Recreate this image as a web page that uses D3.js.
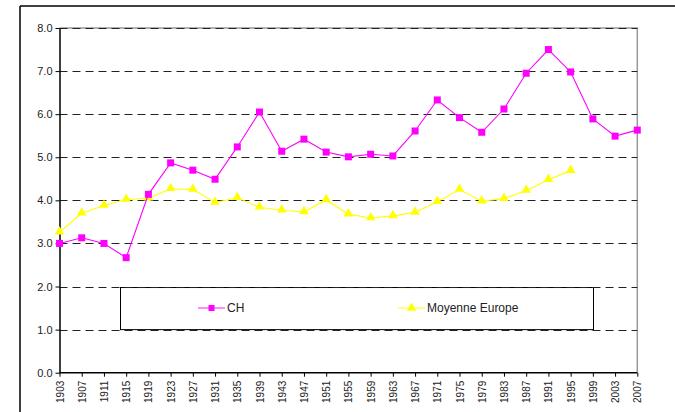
<!DOCTYPE html>
<html>
<head>
<meta charset="utf-8">
<script src="https://cdn.jsdelivr.net/npm/d3@7"></script>
<style>
  body { margin: 0; background: #fff; }
  svg { display: block; font-family: "Liberation Sans", Arial, sans-serif; }
  .axis path, .axis line { stroke: #000; }
  .axis text { fill: #222; }
</style>
</head>
<body>
<div id="chart"></div>
<script>
const years = ["1903","1907","1911","1915","1919","1923","1927","1931","1935","1939","1943","1947","1951","1955","1959","1963","1967","1971","1975","1979","1983","1987","1991","1995","1999","2003","2007"];
const ch = [3.0,3.13,3.0,2.67,4.14,4.87,4.70,4.49,5.24,6.05,5.14,5.42,5.12,5.01,5.07,5.03,5.61,6.33,5.92,5.58,6.12,6.95,7.50,6.98,5.89,5.49,5.63];
const europe = [3.26,3.70,3.88,4.02,4.05,4.27,4.25,3.95,4.06,3.84,3.77,3.73,4.01,3.68,3.59,3.64,3.72,3.97,4.25,3.98,4.04,4.23,4.48,4.69];
const yTicks = [0,1,2,3,4,5,6,7,8];
const seriesNames = ["CH", "Moyenne Europe"];

const width = 675, height = 412;
const plotLeft = 59.5, plotRight = 637.3, plotTop = 28, plotBottom = 372.7;

const svg = d3.select("#chart").append("svg")
  .attr("width", width).attr("height", height);

svg.append("rect").attr("width", width).attr("height", height).attr("fill", "#fff");

// outer frame (only top and left visible)
svg.append("line").attr("x1", 20).attr("x2", width).attr("y1", 6).attr("y2", 6)
  .attr("stroke", "#000").attr("stroke-width", 1.5);
svg.append("line").attr("x1", 20).attr("x2", 20).attr("y1", 6).attr("y2", height)
  .attr("stroke", "#000").attr("stroke-width", 1.5);

const x = d3.scalePoint().domain(years).range([plotLeft, plotRight]);
const y = d3.scaleLinear().domain([0, 8]).range([plotBottom, plotTop]);

// plot area border top/right
svg.append("path")
  .attr("d", `M${plotLeft},${plotTop}H${plotRight}V${plotBottom}`)
  .attr("fill", "none").attr("stroke", "#999").attr("stroke-width", 1.5);

// legend box
const lg = svg.append("g");
lg.append("rect")
  .attr("x", 120.5).attr("y", y(2) + 1).attr("width", 473).attr("height", y(1) - y(2) - 1)
  .attr("fill", "#fff").attr("stroke", "#000").attr("stroke-width", 1);

// gridlines
svg.append("g")
  .selectAll("line")
  .data(yTicks.filter(d => d > 0))
  .join("line")
  .attr("x1", plotLeft).attr("x2", plotRight)
  .attr("y1", d => Math.round(y(d)) + 0.5).attr("y2", d => Math.round(y(d)) + 0.5)
  .attr("stroke", "#222").attr("stroke-width", 1.2)
  .attr("stroke-dasharray", "8,5");

// axes
svg.append("g").attr("class", "axis")
  .attr("transform", `translate(${plotLeft},0)`)
  .call(d3.axisLeft(y).tickValues(yTicks).tickFormat(d3.format(".1f")).tickSize(4).tickSizeOuter(0))
  .call(g => g.selectAll("text").attr("font-size", 11).attr("x", -7))
  .call(g => g.select(".domain").attr("stroke-width", 1.5));

svg.append("g").attr("class", "axis")
  .attr("transform", `translate(0,${plotBottom})`)
  .call(d3.axisBottom(x).tickSize(4).tickSizeOuter(0))
  .call(g => g.select(".domain").attr("d", `M${plotLeft},0H${plotRight}`).attr("stroke-width", 1.5))
  .call(g => g.selectAll("text")
    .attr("font-size", 10)
    .attr("transform", "rotate(-90)")
    .attr("text-anchor", "end")
    .attr("x", -8).attr("y", 0).attr("dy", "0.35em"));

const line = d3.line().x((d, i) => x(years[i])).y(d => y(d));

// europe
svg.append("path").datum(europe)
  .attr("d", line).attr("fill", "none").attr("stroke", "#ffff00").attr("stroke-width", 1.1);
const tri = d3.symbol().type(d3.symbolTriangle).size(40);
svg.append("g").selectAll("path").data(europe).join("path")
  .attr("d", tri)
  .attr("transform", (d, i) => `translate(${x(years[i])},${y(d) - 0.5})`)
  .attr("fill", "#ffff00");

// CH
svg.append("path").datum(ch)
  .attr("d", line).attr("fill", "none").attr("stroke", "#ff00ff").attr("stroke-width", 1.1);
svg.append("g").selectAll("rect").data(ch).join("rect")
  .attr("x", (d, i) => x(years[i]) - 3.5).attr("y", d => y(d) - 3.5)
  .attr("width", 7).attr("height", 7)
  .attr("fill", "#ff00ff");

// legend entries
const legendY = 308;
const items = [
  { name: seriesNames[0], x0: 198, color: "#ff00ff", shape: "square" },
  { name: seriesNames[1], x0: 398, color: "#ffff00", shape: "triangle" }
];
items.forEach(it => {
  lg.append("line").attr("x1", it.x0).attr("x2", it.x0 + 27)
    .attr("y1", legendY).attr("y2", legendY)
    .attr("stroke", it.color).attr("stroke-width", 1.5)
    .attr("opacity", 0.6);
  if (it.shape === "square") {
    lg.append("rect").attr("x", it.x0 + 13.5 - 3).attr("y", legendY - 3)
      .attr("width", 6).attr("height", 6).attr("fill", it.color);
  } else {
    lg.append("path").attr("d", tri)
      .attr("transform", `translate(${it.x0 + 13.5},${legendY})`)
      .attr("fill", it.color);
  }
  lg.append("text").attr("x", it.x0 + 29).attr("y", legendY).attr("dy", "0.35em")
    .attr("font-size", 12).attr("fill", "#222").text(it.name);
});
</script>
</body>
</html>
